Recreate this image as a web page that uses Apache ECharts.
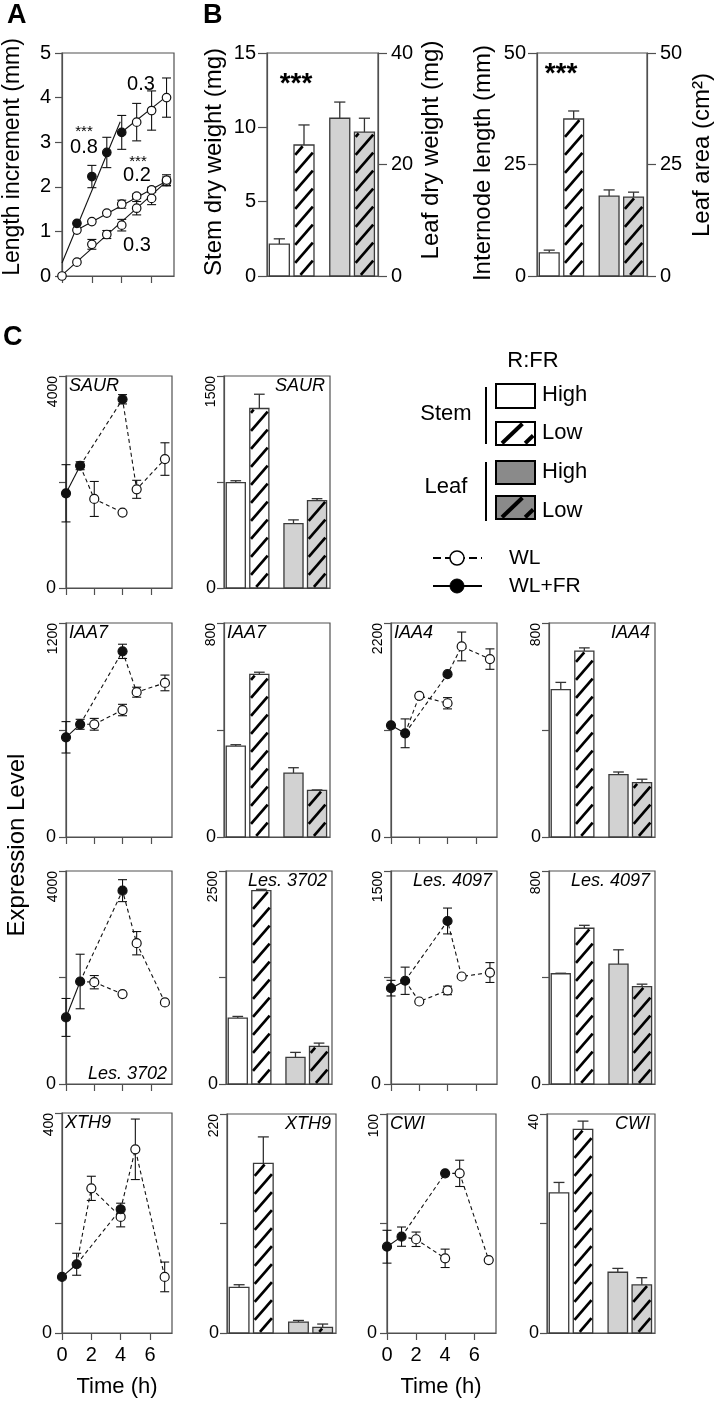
<!DOCTYPE html>
<html><head><meta charset="utf-8">
<script src="https://cdn.jsdelivr.net/npm/echarts@6/dist/echarts.min.js"></script>
<style>html,body{margin:0;padding:0;background:#fff}#c{width:717px;height:1401px}</style>
</head><body><div id="c"></div>
<script>
// ---------------- DATA ----------------
// Panel A : length increment (mm) vs time (h)
const A_X_TICKS = [0, 2, 4, 6];
const A_T_LOW = [0, 1, 2, 3, 4, 5, 6, 7];
const A_LOW = [0, 0.31, 0.71, 0.93, 1.14, 1.52, 1.74, 2.12];
const A_LOW_ERR = [0, 0, 0.11, 0.09, 0.13, 0.15, 0.14, 0.1];
const A_T_MID = [1, 2, 3, 4, 5, 6, 7];
const A_MID = [1.03, 1.22, 1.41, 1.61, 1.79, 1.93, 2.15];
const A_MID_ERR = [0, 0, 0, 0.09, 0.05, 0.06, 0.12];
const A_T_FR = [1, 2, 3, 4];
const A_FR = [1.18, 2.23, 2.77, 3.22];
const A_FR_ERR = [0, 0.25, 0.34, 0.38];
const A_T_UP = [5, 6, 7];
const A_UP = [3.45, 3.71, 4.0];
const A_UP_ERR = [0.42, 0.44, 0.44];
// fitted lines [x0, y0, x1, y1]
const A_FIT_FR = [0, 0.29, 3.9, 3.46];
const A_FIT_UP = [3.9, 3.2, 6.9, 4.0];
const A_FIT_MID = [1, 1.03, 6.9, 2.11];
const A_FIT_LOW = [0, 0.02, 6.9, 2.09];

// Panel B : bars (Stem High, Stem Low | Leaf High, Leaf Low)
const B_POS = [1, 3, 5.9, 7.9];
const B1_STEM = [2.15, 8.81], B1_STEM_ERR = [0.35, 1.35];
const B1_LEAF = [28.3, 25.8], B1_LEAF_ERR = [2.9, 2.5];
const B2_INTERNODE = [5.2, 35.2], B2_INTERNODE_ERR = [0.6, 1.8];
const B2_AREA = [17.9, 17.7], B2_AREA_ERR = [1.4, 1.1];

// Panel C : expression level
const X_TICKS = [0, 2, 4, 6];
const T_FR = [0, 1, 4];        // WL+FR (filled)
const T_WL = [2, 4, 5, 7];     // WL (open)
const SAUR_FR = [1787, 2307, 3561], SAUR_FR_ERR = [540, 75, 88];
const SAUR_WL = [1680, 1423, 1862, 2433], SAUR_WL_ERR = [330, 0, 170, 307];
const SAUR_BAR = [745, 1270, 456, 618], SAUR_BAR_ERR = [14, 101, 26, 14];
const IAA7_FR = [559, 632, 1041], IAA7_FR_ERR = [88, 28, 40];
const IAA7_WL = [632, 712, 812, 864], IAA7_WL_ERR = [33, 32, 28, 44];
const IAA7_BAR = [340, 608, 239, 174], IAA7_BAR_ERR = [5, 8, 20, 2];
const IAA4_FR = [1148, 1066, 1674], IAA4_FR_ERR = [0, 148, 0];
const IAA4_WL = [1451, 1375, 1959, 1829], IAA4_WL_ERR = [0, 58, 148, 105];
const IAA4_BAR = [551, 695, 233, 203], IAA4_BAR_ERR = [27, 12, 10, 13];
const LES3702_FR = [1250, 1925, 3631], LES3702_FR_ERR = [356, 512, 206];
const LES3702_WL = [1912, 1688, 2644, 1531], LES3702_WL_ERR = [125, 0, 219, 0];
const LES3702_BAR = [773, 2270, 312, 441], LES3702_BAR_ERR = [20, 15, 59, 39];
const LES4097_FR = [675, 727, 1148], LES4097_FR_ERR = [55, 96, 91];
const LES4097_WL = [581, 659, 757, 785], LES4097_WL_ERR = [0, 30, 0, 70];
const LES4097_BAR = [414, 585, 450, 366], LES4097_BAR_ERR = [2, 11, 54, 9];
const XTH9_FR = [102, 125, 225], XTH9_FR_ERR = [0, 20, 11];
const XTH9_WL = [263, 211, 334, 102], XTH9_WL_ERR = [22, 18, 55, 27];
const XTH9_BAR = [45.9, 170.5, 11, 5.7], XTH9_BAR_ERR = [2.6, 26.5, 1.6, 3.3];
const CWI_FR = [39.4, 44, 72.9], CWI_FR_ERR = [7.5, 4.4, 0];
const CWI_WL = [42.8, 34.1, 72.9, 33.3], CWI_WL_ERR = [3.3, 4.2, 6, 0];
const CWI_BAR = [25.6, 37.2, 11.1, 8.8], CWI_BAR_ERR = [1.9, 1.5, 0.7, 1.3];

// ---------------- STYLE / LAYOUT ----------------
const FONT = "'Liberation Sans', Arial, Helvetica, sans-serif";
const AXC = '#505050';
const INK = '#111';
const GRAY = '#d2d2d2';
const LEG_GRAY = '#8a8a8a';
const BAR_W = 1.62;

const grids = [], xAxes = [], yAxes = [], series = [], graphic = [];

function addGrid(b) {
  grids.push({left: b[0], top: b[1], width: b[2], height: b[3], show: true,
    borderColor: AXC, borderWidth: 1.2, backgroundColor: 'rgba(0,0,0,0)',
    containLabel: false, outerBoundsMode: 'none'});
  return grids.length - 1;
}
function axLine() { return {show: true, onZero: false, lineStyle: {color: AXC, width: 1.2}}; }
function tickS(len, vals) { const t = {show: true, length: len, inside: false, lineStyle: {color: AXC, width: 1.2}}; if (vals) t.customValues = vals; return t; }
function labS(size, margin, vals) { const l = {show: true, fontSize: size, margin: margin, color: '#000', fontFamily: FONT, formatter: v => String(v)}; if (vals) l.customValues = vals; return l; }
function mkX(g, o) { xAxes.push(Object.assign({type: 'value', gridIndex: g, position: 'bottom', min: 0, max: 7.5, axisLine: axLine(), axisTick: {show: false}, axisLabel: {show: false}, splitLine: {show: false}}, o)); return xAxes.length - 1; }
function mkY(g, o) { yAxes.push(Object.assign({type: 'value', gridIndex: g, position: 'left', axisLine: axLine(), axisTick: {show: false}, axisLabel: {show: false}, splitLine: {show: false}}, o)); return yAxes.length - 1; }

function txt(x, y, s, o) {
  o = o || {};
  graphic.push({type: 'text', x: x, y: y, rotation: o.rot || 0, silent: true, z: 100,
    style: {text: s, fill: '#000', fontFamily: FONT, fontSize: o.size || 20,
      fontWeight: o.bold ? 'bold' : 'normal', fontStyle: o.italic ? 'italic' : 'normal',
      align: o.align || 'center', verticalAlign: o.va || 'middle'}});
}

function seg(x1, y1, x2, y2, w, c) { return {type: 'line', shape: {x1, y1, x2, y2}, style: {stroke: c || INK, lineWidth: w || 1.2}}; }

function hatch(x0, y0, w, h, m, s, lw, phase) {
  const out = [], ins = lw * 0.45;
  const X0 = x0 + ins, Y0 = y0 + ins, W = w - 2 * ins, H = h - 2 * ins;
  if (W <= 1 || H <= 1) return out;
  const Cmax = Y0 + H + m * W;
  const base = Y0 + H + phase;
  let k0 = Math.ceil((Y0 - base) / s), k1 = Math.floor((Cmax - base) / s);
  for (let k = k0; k <= k1; k++) {
    const C = base + k * s;
    const t1 = Math.max(0, (C - Y0 - H) / m), t2 = Math.min(W, (C - Y0) / m);
    if (t2 - t1 > 1.8) out.push({type: 'line', shape: {x1: X0 + t1, y1: C - m * t1, x2: X0 + t2, y2: C - m * t2}, style: {stroke: '#000', lineWidth: lw}});
  }
  return out;
}

function barItem(params, api) {
  const pos = api.value(0), v = api.value(1), e = api.value(2), kind = api.value(3);
  const b = api.coord([pos, 0]), t = api.coord([pos, v]), et = api.coord([pos, v + e]);
  const w = api.size([BAR_W, 0])[0];
  const x0 = b[0] - w / 2, y0 = t[1], h = b[1] - t[1];
  const ch = [];
  if (e > 0) {
    ch.push(seg(b[0], y0, b[0], et[1], 1.3, '#333'));
    ch.push(seg(b[0] - w * 0.28, et[1], b[0] + w * 0.28, et[1], 1.3, '#333'));
  }
  ch.push({type: 'rect', shape: {x: x0, y: y0, width: w, height: h}, style: {fill: kind >= 2 ? GRAY : '#fff', stroke: '#3a3a3a', lineWidth: 1.3}});
  if (kind % 2 === 1) hatch(x0, y0, w, h, 1.15, 18, 2.7, 6).forEach(l => ch.push(l));
  return {type: 'group', children: ch};
}
function errItem(params, api) {
  const x = api.value(0), y = api.value(1), e = api.value(2);
  if (!e) return {type: 'group', children: []};
  const p1 = api.coord([x, y - e]), p2 = api.coord([x, y + e]), c = 4.5;
  return {type: 'group', children: [seg(p1[0], p1[1], p2[0], p2[1], 1.1), seg(p1[0] - c, p1[1], p1[0] + c, p1[1], 1.1), seg(p2[0] - c, p2[1], p2[0] + c, p2[1], 1.1)]};
}
function lineS(x, y, data, type) { return {type: 'line', xAxisIndex: x, yAxisIndex: y, data: data, symbol: 'none', silent: true, z: 2, lineStyle: {color: INK, width: 1.1, type: type}}; }
function scatS(x, y, data, filled, size) { return {type: 'scatter', xAxisIndex: x, yAxisIndex: y, data: data, symbol: 'circle', symbolSize: size, silent: true, z: 5, itemStyle: {color: filled ? INK : '#fff', borderColor: INK, borderWidth: 1.2, opacity: 1}}; }
function errS(x, y, data) { return {type: 'custom', xAxisIndex: x, yAxisIndex: y, data: data, renderItem: errItem, silent: true, z: 3, encode: {x: 0, y: 1}, clip: false}; }
function barS(x, y, data) { return {type: 'custom', xAxisIndex: x, yAxisIndex: y, data: data, renderItem: barItem, silent: true, z: 2, encode: {x: 0, y: 1}, clip: false}; }
const pts = (ts, vs) => ts.map((t, i) => [t, vs[i]]);
const errPts = (ts, vs, es) => ts.map((t, i) => [t, vs[i], es[i]]);

// ---------------- PANEL A ----------------
(function () {
  const g = addGrid([62, 53, 112, 223]);
  const x = mkX(g, {axisTick: tickS(7, A_X_TICKS)});
  const y = mkY(g, {min: 0, max: 5, interval: 1, axisTick: tickS(7), axisLabel: labS(20, 11)});
  [A_FIT_FR, A_FIT_UP, A_FIT_MID, A_FIT_LOW].forEach(f => series.push(lineS(x, y, [[f[0], f[1]], [f[2], f[3]]], 'solid')));
  series.push(errS(x, y, errPts(A_T_LOW, A_LOW, A_LOW_ERR).concat(errPts(A_T_MID, A_MID, A_MID_ERR), errPts(A_T_FR, A_FR, A_FR_ERR), errPts(A_T_UP, A_UP, A_UP_ERR))));
  series.push(scatS(x, y, pts(A_T_LOW, A_LOW).concat(pts(A_T_MID, A_MID), pts(A_T_UP, A_UP)), false, 8.5));
  series.push(scatS(x, y, pts(A_T_FR, A_FR), true, 8.5));
  txt(7, 16, 'A', {size: 27, bold: true, align: 'left'});
  txt(13, 157, 'Length increment (mm)', {size: 23, rot: Math.PI / 2});
  txt(84, 132, '***', {size: 15});
  txt(84, 147, '0.8', {size: 20});
  txt(141, 84, '0.3', {size: 20});
  txt(138, 162, '***', {size: 15});
  txt(137, 175, '0.2', {size: 20});
  txt(137, 245, '0.3', {size: 20});
})();

// ---------------- PANEL B ----------------
function bPanel(box, lMax, lInt, rMax, rInt, lVals, lErr, rVals, rErr) {
  const g = addGrid(box);
  const x = mkX(g, {min: 0, max: 9});
  const yl = mkY(g, {min: 0, max: lMax, interval: lInt, axisTick: tickS(9), axisLabel: labS(20, 11)});
  const yr = mkY(g, {position: 'right', min: 0, max: rMax, interval: rInt, axisTick: tickS(9), axisLabel: labS(20, 13)});
  series.push(barS(x, yl, lVals.map((v, i) => [B_POS[i], v, lErr[i], i])));
  series.push(barS(x, yr, rVals.map((v, i) => [B_POS[i + 2], v, rErr[i], i + 2])));
}
bPanel([267, 53, 111, 223], 15, 5, 40, 20, B1_STEM, B1_STEM_ERR, B1_LEAF, B1_LEAF_ERR);
bPanel([537, 53, 110, 223], 50, 25, 50, 25, B2_INTERNODE, B2_INTERNODE_ERR, B2_AREA, B2_AREA_ERR);
txt(203, 16, 'B', {size: 27, bold: true, align: 'left'});
txt(214, 162, 'Stem dry weight (mg)', {size: 24, rot: Math.PI / 2});
txt(431, 150, 'Leaf dry weight (mg)', {size: 24, rot: Math.PI / 2});
txt(483, 163, 'Internode length (mm)', {size: 24, rot: Math.PI / 2});
txt(702, 155, 'Leaf area (cm²)', {size: 24, rot: Math.PI / 2});
txt(296, 84, '***', {size: 28, bold: true});
txt(561, 74, '***', {size: 28, bold: true});

// ---------------- PANEL C ----------------
function geneLabel(b, name, pos) {
  const L = b[0], T = b[1], R = b[0] + b[2], B = b[1] + b[3];
  if (pos === 'tl') txt(L + 3, T + 1, name, {size: 18, italic: true, align: 'left', va: 'top'});
  else if (pos === 'tr') txt(R - 5, T + 1, name, {size: 18, italic: true, align: 'right', va: 'top'});
  else txt(R - 5, B - 1, name, {size: 18, italic: true, align: 'right', va: 'bottom'});
}
function linePanel(p) {
  const g = addGrid(p.box);
  const x = mkX(g, {axisTick: tickS(7, X_TICKS), axisLabel: p.xlab ? labS(20, 12, X_TICKS) : {show: false}});
  const y = mkY(g, {min: 0, max: p.max, axisTick: tickS(7, [0, p.max / 2, p.max]), axisLabel: labS(18, 10, [0])});
  mkY(g, {min: 0, max: p.max, axisLine: {show: false}, axisLabel: Object.assign(labS(14, 6, [p.max]), {rotate: 90, align: 'right', verticalAlign: 'bottom'})});
  const fr = pts(T_FR, p.fr), wl = pts(T_WL, p.wl);
  series.push(lineS(x, y, [fr[0], fr[1]], 'solid'));
  series.push(lineS(x, y, [fr[1], wl[0], wl[1]], [4, 3]));
  series.push(lineS(x, y, [fr[1], fr[2], wl[2], wl[3]], [4, 3]));
  series.push(errS(x, y, errPts(T_FR, p.fr, p.frErr).concat(errPts(T_WL, p.wl, p.wlErr))));
  series.push(scatS(x, y, wl, false, 9));
  series.push(scatS(x, y, fr, true, 9));
  geneLabel(p.box, p.name, p.pos);
}
function barPanel(p) {
  const g = addGrid(p.box);
  const x = mkX(g, {min: 0, max: 9});
  const y = mkY(g, {min: 0, max: p.max, axisTick: tickS(7, [0, p.max / 2, p.max]), axisLabel: labS(18, 8, [0])});
  mkY(g, {min: 0, max: p.max, axisLine: {show: false}, axisLabel: Object.assign(labS(14, 6, [p.max]), {rotate: 90, align: 'right', verticalAlign: 'bottom'})});
  series.push(barS(x, y, p.vals.map((v, i) => [B_POS[i], v, p.errs[i], i])));
  geneLabel(p.box, p.name, p.pos);
}

linePanel({name: 'SAUR', box: [66, 376, 106, 212], max: 4000, fr: SAUR_FR, frErr: SAUR_FR_ERR, wl: SAUR_WL, wlErr: SAUR_WL_ERR, pos: 'tl'});
barPanel({name: 'SAUR', box: [224, 376, 106, 212], max: 1500, vals: SAUR_BAR, errs: SAUR_BAR_ERR, pos: 'tr'});
linePanel({name: 'IAA7', box: [66, 623, 106, 214], max: 1200, fr: IAA7_FR, frErr: IAA7_FR_ERR, wl: IAA7_WL, wlErr: IAA7_WL_ERR, pos: 'tl'});
barPanel({name: 'IAA7', box: [224, 623, 106, 214], max: 800, vals: IAA7_BAR, errs: IAA7_BAR_ERR, pos: 'tl'});
linePanel({name: 'IAA4', box: [391, 623, 106, 214], max: 2200, fr: IAA4_FR, frErr: IAA4_FR_ERR, wl: IAA4_WL, wlErr: IAA4_WL_ERR, pos: 'tl'});
barPanel({name: 'IAA4', box: [549, 623, 106, 214], max: 800, vals: IAA4_BAR, errs: IAA4_BAR_ERR, pos: 'tr'});
linePanel({name: 'Les. 3702', box: [66, 871, 106, 213], max: 4000, fr: LES3702_FR, frErr: LES3702_FR_ERR, wl: LES3702_WL, wlErr: LES3702_WL_ERR, pos: 'br'});
barPanel({name: 'Les. 3702', box: [226, 871, 106, 213], max: 2500, vals: LES3702_BAR, errs: LES3702_BAR_ERR, pos: 'tr'});
linePanel({name: 'Les. 4097', box: [391, 871, 106, 213], max: 1500, fr: LES4097_FR, frErr: LES4097_FR_ERR, wl: LES4097_WL, wlErr: LES4097_WL_ERR, pos: 'tr'});
barPanel({name: 'Les. 4097', box: [549, 871, 106, 213], max: 800, vals: LES4097_BAR, errs: LES4097_BAR_ERR, pos: 'tr'});
linePanel({name: 'XTH9', box: [62, 1113, 110, 220], max: 400, fr: XTH9_FR, frErr: XTH9_FR_ERR, wl: XTH9_WL, wlErr: XTH9_WL_ERR, pos: 'tl', xlab: true});
barPanel({name: 'XTH9', box: [227, 1114, 109, 219], max: 220, vals: XTH9_BAR, errs: XTH9_BAR_ERR, pos: 'tr'});
linePanel({name: 'CWI', box: [387, 1114, 109, 219], max: 100, fr: CWI_FR, frErr: CWI_FR_ERR, wl: CWI_WL, wlErr: CWI_WL_ERR, pos: 'tl', xlab: true});
barPanel({name: 'CWI', box: [547, 1114, 108, 219], max: 40, vals: CWI_BAR, errs: CWI_BAR_ERR, pos: 'tr'});

txt(3, 338, 'C', {size: 27, bold: true, align: 'left'});
txt(17, 845, 'Expression Level', {size: 24, rot: Math.PI / 2});
txt(117, 1387, 'Time (h)', {size: 22});
txt(441, 1387, 'Time (h)', {size: 22});

// ---------------- LEGEND ----------------
(function () {
  const boxes = [[496, 384, 39, 24, '#fff', false], [496, 422, 39, 23, '#fff', true], [496, 461, 39, 23, LEG_GRAY, false], [496, 496, 39, 23, LEG_GRAY, true]];
  boxes.forEach(b => {
    const ch = [{type: 'rect', shape: {x: b[0], y: b[1], width: b[2], height: b[3]}, style: {fill: b[4], stroke: '#000', lineWidth: 2}}];
    if (b[5]) hatch(b[0], b[1], b[2], b[3], 0.95, 22, 4, 4).forEach(l => ch.push(l));
    graphic.push({type: 'group', silent: true, z: 100, children: ch});
  });
  graphic.push({type: 'group', silent: true, z: 100, children: [
    seg(486, 387, 486, 444, 2, '#000'), seg(486, 462, 486, 521, 2, '#000'),
    {type: 'line', shape: {x1: 433, y1: 558, x2: 482, y2: 558}, style: {stroke: '#000', lineWidth: 2, lineDash: [8, 4]}},
    {type: 'circle', shape: {cx: 457, cy: 558, r: 7}, style: {fill: '#fff', stroke: '#000', lineWidth: 1.5}},
    seg(433, 586, 482, 586, 2, '#000'),
    {type: 'circle', shape: {cx: 457, cy: 586, r: 7}, style: {fill: '#000', stroke: '#000', lineWidth: 1}}
  ]});
  txt(533, 361, 'R:FR', {size: 22});
  txt(446, 414, 'Stem', {size: 22});
  txt(446, 487, 'Leaf', {size: 22});
  txt(542, 395, 'High', {size: 22, align: 'left'});
  txt(542, 433, 'Low', {size: 22, align: 'left'});
  txt(542, 472, 'High', {size: 22, align: 'left'});
  txt(542, 511, 'Low', {size: 22, align: 'left'});
  txt(509, 558, 'WL', {size: 21, align: 'left'});
  txt(509, 586, 'WL+FR', {size: 21, align: 'left'});
})();

const chart = echarts.init(document.getElementById('c'), null, {renderer: 'canvas', width: 717, height: 1401});
chart.setOption({animation: false, backgroundColor: '#fff', textStyle: {fontFamily: FONT},
  grid: grids, xAxis: xAxes, yAxis: yAxes, series: series, graphic: graphic});
</script></body></html>
